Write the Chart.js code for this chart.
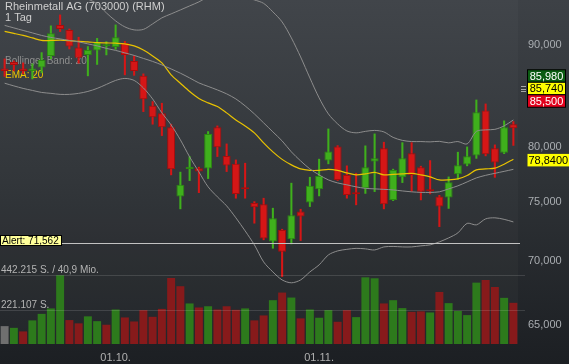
<!DOCTYPE html>
<html><head><meta charset="utf-8">
<script src="https://cdn.jsdelivr.net/npm/chart.js@4/dist/chart.umd.min.js"></script>
<style>html,body{margin:0;padding:0;background:#1d2024;overflow:hidden}#wrap{width:569px;height:364px}</style>
</head><body><div id="wrap"><canvas id="c" width="569" height="364"></canvas></div>
<script>
const categories = ['13.09.','14.09.','17.09.','18.09.','19.09.','20.09.','21.09.','24.09.','25.09.','26.09.',
'27.09.','28.09.','01.10.','02.10.','04.10.','05.10.','08.10.','09.10.','10.10.','11.10.',
'12.10.','15.10.','16.10.','17.10.','18.10.','19.10.','22.10.','23.10.','24.10.','25.10.',
'26.10.','29.10.','30.10.','31.10.','01.11.','02.11.','05.11.','06.11.','07.11.','08.11.',
'09.11.','12.11.','13.11.','14.11.','15.11.','16.11.','19.11.','20.11.','21.11.','22.11.',
'23.11.','26.11.','27.11.','28.11.','29.11.','30.11.'];
const openP = [87.61,88.28,87.61,87.36,87.70,88.90,92.16,91.63,89.76,89.00,
89.47,89.89,89.83,90.25,88.38,86.86,83.88,83.17,81.83,75.48,
77.95,78.02,77.98,81.83,79.14,78.41,76.16,74.91,74.82,71.63,
72.61,71.83,74.18,74.96,76.13,78.71,80.00,77.41,75.76,76.22,
78.62,79.85,75.19,77.20,79.39,78.09,76.00,75.48,75.41,77.46,
78.36,79.17,83.44,79.85,79.44,82.11];
const highP = [88.59,88.38,88.18,88.08,89.24,92.06,93.24,91.73,90.85,89.87,
90.73,90.39,92.16,90.41,88.90,87.06,84.30,84.14,82.11,77.66,
79.08,78.11,81.41,81.95,80.25,78.77,78.47,75.04,75.34,74.47,
72.67,76.67,74.38,77.20,78.84,81.66,80.09,78.23,77.56,80.07,
81.19,80.41,77.93,80.37,80.37,78.20,78.71,75.59,77.23,79.48,
79.97,84.46,84.07,80.16,82.43,82.36];
const lowP = [86.80,87.36,87.06,86.55,87.16,88.59,91.45,89.62,88.15,86.86,
88.02,89.00,89.59,86.96,86.91,83.32,82.11,81.03,77.41,74.41,
76.90,75.83,77.08,79.08,77.71,75.34,75.34,73.18,71.78,71.08,
68.78,71.44,71.72,74.61,75.54,78.41,76.90,75.34,74.76,75.76,
75.92,74.41,75.13,76.72,75.94,75.19,75.72,72.89,74.45,77.02,
78.23,78.91,79.14,77.19,79.35,80.11];
const closeP = [87.36,87.97,87.36,87.61,88.48,91.28,91.73,89.87,88.72,89.52,
90.36,89.99,90.85,89.00,87.36,84.53,82.78,81.83,77.93,76.52,
78.14,77.71,81.19,79.95,78.25,75.72,76.12,74.56,71.90,73.61,
70.80,73.87,73.75,76.43,77.32,79.54,76.96,75.63,75.68,78.11,
78.93,74.82,77.86,78.93,77.41,75.90,75.95,74.61,76.76,78.29,
79.11,83.26,79.30,78.54,81.83,81.73];
const volume = [115000,104000,81000,152000,194000,229000,442215,154000,133000,178000,
147000,124000,222000,171000,145000,218000,175000,226000,425000,372000,
261000,235000,243000,222000,243000,220000,229000,152000,184000,282000,
331000,299000,165000,222000,169000,218000,143000,218000,173000,429000,
423000,261000,282000,231000,207000,210000,203000,335000,263000,213000,
186000,395000,412000,367000,297000,265000];
const bbUpper = [98.13,97.79,97.57,97.23,96.89,96.55,96.33,95.99,95.55,94.99,
94.44,93.46,92.59,91.95,91.63,91.68,92.27,92.92,93.35,93.78,
94.22,94.66,95.21,95.44,95.44,95.44,95.21,94.88,94.50,93.57,
92.48,90.78,88.79,86.65,84.66,83.10,82.14,81.47,81.29,81.43,
81.52,81.38,80.86,80.58,80.47,80.47,80.44,80.49,80.35,80.47,
80.25,81.43,81.57,81.62,81.95,82.52];
const bbMiddle = [92.11,91.84,91.57,91.31,91.04,90.83,90.67,90.51,90.36,90.15,
89.94,89.68,89.47,89.21,88.95,88.64,88.33,87.97,87.56,87.13,
86.65,86.15,85.80,85.45,85.06,84.56,83.88,83.10,82.24,81.38,
80.53,79.51,78.68,77.95,77.41,76.96,76.69,76.52,76.34,76.21,
76.16,76.12,76.07,75.98,75.90,75.85,75.85,75.90,76.16,76.43,
76.78,77.14,77.37,77.55,77.73,77.91];
const bbLower = [86.12,85.85,85.60,85.40,85.20,85.11,85.01,85.01,85.11,85.30,
85.60,86.00,86.40,86.60,86.40,85.65,84.56,83.20,82.04,80.63,
79.05,77.68,76.34,75.46,74.67,73.64,72.53,71.36,69.96,69.15,
68.51,68.28,68.51,69.15,69.72,70.53,70.86,70.99,71.07,71.03,
70.94,71.19,71.23,71.19,71.19,71.28,71.36,71.61,71.94,72.36,
73.17,73.04,73.55,73.64,73.51,73.29];
const ema20 = [91.47,91.26,91.04,90.78,90.51,90.51,90.54,90.49,90.41,90.36,
90.28,90.25,90.22,90.15,89.94,89.52,88.90,88.18,86.96,86.12,
85.30,84.61,84.17,83.81,83.20,82.52,81.95,81.29,80.35,79.51,
78.82,78.32,77.95,77.82,77.82,77.91,77.82,77.59,77.41,77.50,
77.64,77.41,77.46,77.50,77.55,77.41,77.23,76.96,76.96,77.05,
77.35,77.86,77.95,78.02,78.38,78.84];
const priceTicks = [65, 70, 75, 80, 90];
const xTickLabels = ['01.10.', '01.11.'];
const quoteLabels = [85.980, 85.740, 85.500];
const alertLevel = 71.562;
const turnoverText = '40,9 Mio.';
const titleText = 'Rheinmetall AG (703000) (RHM)';
const periodText = '1 Tag';

const FONT = '"Liberation Sans", Arial, sans-serif';
const fmtPrice = (v, d) => v.toFixed(d).replace('.', ',');
const fmtInt = n => String(Math.floor(n)).replace(/\B(?=(\d{3})+(?!\d))/g, '.');

const isUp = openP.map((o, i) => closeP[i] >= o);
const bodyFill = isUp.map(u => u ? '#3fb01c' : '#d61616');
const bodyLine = isUp.map(u => u ? '#2b8a10' : '#a80c0c');
const volColors = closeP.map((c, i) => i === 0 ? '#6f6f6f' : (c > closeP[i - 1] ? '#2d7a1c' : '#871a1b'));
const maxVol = Math.max(...volume);

const decor = {
  id: 'decor',
  beforeDraw(chart) {
    const {ctx, width, height, chartArea: ca} = chart;
    ctx.save();
    const g = ctx.createLinearGradient(0, 0, 0, height);
    g.addColorStop(0, '#3d4146');
    g.addColorStop(0.5, '#2e3236');
    g.addColorStop(1, '#1c1f23');
    ctx.fillStyle = g;
    ctx.fillRect(0, 0, width, height);
    ctx.fillStyle = 'rgba(255,255,255,0.025)';
    ctx.fillRect(ca.left, ca.top, ca.right - ca.left, ca.bottom - ca.top);
    ctx.restore();
  },
  beforeDatasetsDraw(chart) {
    const {ctx} = chart;
    ctx.save();
    ctx.textBaseline = 'alphabetic';
    ctx.textAlign = 'left';
    ctx.fillStyle = '#cfcfcf';
    ctx.font = '11px ' + FONT;
    ctx.fillText(titleText, 5, 10);
    ctx.fillText(periodText, 5, 21);
    ctx.font = '10px ' + FONT;
    ctx.fillStyle = '#8e8e8e';
    ctx.fillText('Bollinger Band: 20', 5, 64);
    ctx.fillStyle = '#f0c800';
    ctx.fillText('EMA: 20', 5, 78);
    ctx.restore();
  },
  afterDatasetsDraw(chart) {
    const {ctx} = chart;
    const yS = chart.scales.y, yv = chart.scales.yv;
    ctx.save();
    ctx.strokeStyle = 'rgba(255,255,255,0.13)';
    ctx.lineWidth = 1;
    [maxVol, maxVol / 2].forEach(v => {
      const py = Math.round(yv.getPixelForValue(v)) + 0.5;
      ctx.beginPath(); ctx.moveTo(0, py); ctx.lineTo(525, py); ctx.stroke();
    });
    ctx.font = '10px ' + FONT;
    ctx.fillStyle = '#b4b4b4';
    ctx.textBaseline = 'alphabetic';
    ctx.fillText(fmtInt(maxVol) + ' S. / ' + turnoverText, 1, Math.round(yv.getPixelForValue(maxVol)) - 2);
    ctx.fillText(fmtInt(maxVol / 2) + ' S.', 1, Math.round(yv.getPixelForValue(maxVol / 2)) - 2);
    const ly = Math.round(yS.getPixelForValue(alertLevel)) + 1;
    ctx.strokeStyle = '#c2c2c2';
    ctx.beginPath(); ctx.moveTo(0, ly + 0.5); ctx.lineTo(520, ly + 0.5); ctx.stroke();
    ctx.fillStyle = '#ffff9a';
    ctx.fillRect(0, ly - 8, 62, 11);
    ctx.strokeStyle = '#000';
    ctx.strokeRect(0.5, ly - 7.5, 61, 10);
    ctx.fillStyle = '#000';
    ctx.fillText('Alert: ' + fmtPrice(alertLevel, 3), 2, ly + 1);
    ctx.restore();
  },
  afterDraw(chart) {
    const {ctx} = chart;
    const yS = chart.scales.y;
    ctx.save();
    ctx.font = '11px ' + FONT;
    ctx.textAlign = 'center';
    ctx.textBaseline = 'middle';
    const cy = yS.getPixelForValue(quoteLabels[1]) + 1.5;
    const h = 12.5, bx = 527.5, bw = 38;
    const styles = [['#0b5c12', '#ffffff'], ['#ffff00', '#000000'], ['#e2001c', '#ffffff']];
    quoteLabels.forEach((v, k) => {
      const top = cy - h * 1.5 + k * h;
      ctx.fillStyle = styles[k][0];
      ctx.fillRect(bx, top, bw, h);
      ctx.strokeStyle = '#000';
      ctx.lineWidth = 1;
      ctx.strokeRect(bx, top, bw, h);
      ctx.fillStyle = styles[k][1];
      ctx.fillText(fmtPrice(v, 3), bx + bw / 2, top + h / 2 + 0.5);
    });
    ctx.strokeStyle = '#a8a8a8';
    [-2.5, 0, 2.5].forEach(d => {
      ctx.beginPath(); ctx.moveTo(521, Math.round(cy + d) + 0.5); ctx.lineTo(526, Math.round(cy + d) + 0.5); ctx.stroke();
    });
    const last = ema20[ema20.length - 1];
    const ey = yS.getPixelForValue(last) + 1;
    ctx.fillStyle = '#ffff00';
    ctx.fillRect(527.5, ey - 6.25, 41.5, 12.5);
    ctx.fillStyle = '#000';
    ctx.fillText(fmtPrice(last, 4), 548.3, ey + 0.5);
    ctx.restore();
  }
};

const lineDs = (data, color, w) => ({
  type: 'line', data, borderColor: color, borderWidth: w, pointRadius: 0,
  tension: 0.3, fill: false, yAxisID: 'y', order: 0
});

new Chart(document.getElementById('c'), {
  type: 'bar',
  data: {
    labels: categories,
    datasets: [
      lineDs(bbUpper, '#8d8d8d', 1),
      lineDs(bbMiddle, '#8d8d8d', 1),
      lineDs(bbLower, '#8d8d8d', 1),
      lineDs(ema20, '#e8c200', 1.2),
      {
        data: openP.map((o, i) => [o, closeP[i]]), yAxisID: 'y', order: 1,
        backgroundColor: bodyFill, borderColor: bodyLine, borderWidth: 1, borderSkipped: false,
        grouped: false, barPercentage: 0.86, categoryPercentage: 1, minBarLength: 2
      },
      {
        data: lowP.map((l, i) => [l, highP[i]]), yAxisID: 'y', order: 2,
        backgroundColor: bodyFill, borderWidth: 0, grouped: false, barThickness: 1.4
      },
      {
        data: volume, yAxisID: 'yv', order: 3,
        backgroundColor: volColors, borderWidth: 0, grouped: false,
        barPercentage: 0.86, categoryPercentage: 1
      }
    ]
  },
  options: {
    responsive: false, maintainAspectRatio: false, animation: false, devicePixelRatio: 1,
    layout: {padding: 0},
    plugins: {legend: {display: false}, tooltip: {enabled: false}},
    scales: {
      x: {
        position: 'bottom',
        grid: {display: false, drawTicks: false}, border: {display: false},
        ticks: {
          autoSkip: false, maxRotation: 0, padding: 7, color: '#b0b0b0',
          font: {family: FONT, size: 11},
          callback: function (v) { const l = this.getLabelForValue(v); return xTickLabels.includes(l) ? l : ''; }
        },
        afterFit: s => { s.height = 20; s.paddingLeft = 0; s.paddingRight = 0; }
      },
      y: {
        type: 'logarithmic', position: 'right', min: 63.59, max: 94.87, bounds: 'data',
        grid: {display: false, drawTicks: false}, border: {display: false},
        ticks: {
          autoSkip: false, padding: 10, color: '#a9adb1', font: {family: FONT, size: 11},
          callback: v => fmtPrice(v, 3)
        },
        afterBuildTicks: s => { s.ticks = priceTicks.map(v => ({value: v})); },
        afterFit: s => { s.width = 51; s.paddingTop = 0; s.paddingBottom = 0; }
      },
      yv: {type: 'linear', display: false, min: 0, max: 2214000}
    }
  },
  plugins: [decor]
});
</script>
</body></html>
